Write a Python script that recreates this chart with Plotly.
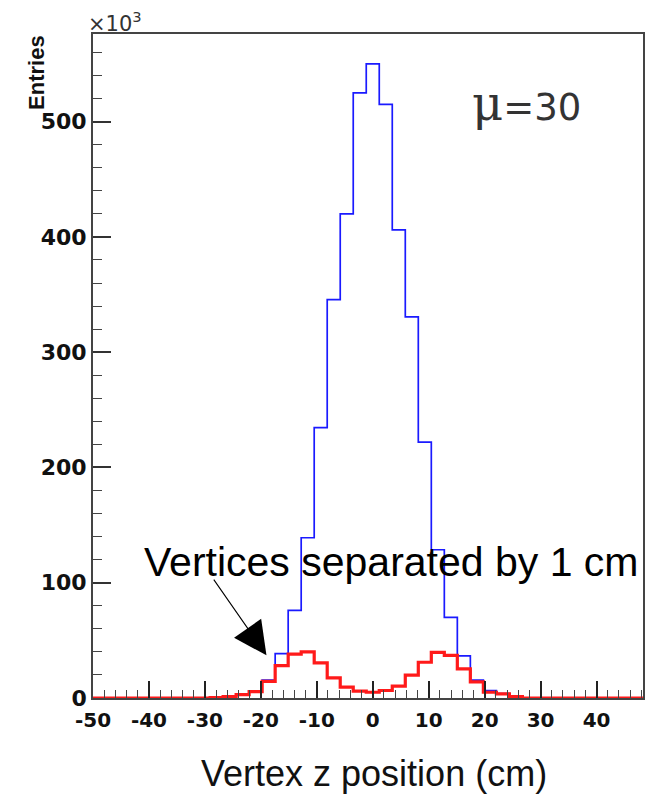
import numpy as np
import plotly.graph_objects as go

# ---- data (entries in units of 10^3) ----
n_bins = 43
x_min, x_max = -50.0, 50.0

all_vertices = [0, 0, 0, 0, 0, 0, 0, 0, 0, 0.3,
                1.3, 3.0, 5.8, 15.5, 38.5, 76, 139, 234.5, 345.6, 420,
                525, 550, 515, 406, 330.6, 222, 128.6, 70, 36.5, 15.5,
                6.5, 3.8, 1.4, 0, 0, 0, 0, 0, 0, 0,
                0, 0, 0]

separated_1cm = [0, 0, 0, 0, 0, 0, 0, 0, 0, 0.3,
                 1.3, 3.0, 5.5, 14.5, 28, 38, 40, 30.5, 17.5, 9.5,
                 5.9, 5.0, 6.5, 10.3, 19.8, 31, 39.5, 37, 25.3, 14,
                 5, 3.6, 1.3, 0, 0, 0, 0, 0, 0, 0,
                 0, 0, 0]

x_tick_vals = [-50, -40, -30, -20, -10, 0, 10, 20, 30, 40]
x_tick_text = ["-50", "-40", "-30", "-20", "-10", "0", "10", "20", "30", "40"]
y_tick_vals = [0, 100, 200, 300, 400, 500]
y_tick_text = ["0", "100", "200", "300", "400", "500"]

edges = np.linspace(x_min, x_max, n_bins + 1)


def step_xy(vals):
    return list(edges), list(vals) + [vals[-1]]


fig = go.Figure()
bx, by = step_xy(all_vertices)
fig.add_trace(go.Scatter(x=bx, y=by, mode="lines", line_shape="hv",
                         line=dict(color="#1a1aff", width=1.7),
                         showlegend=False, hoverinfo="skip"))
rx, ry = step_xy(separated_1cm)
fig.add_trace(go.Scatter(x=rx, y=ry, mode="lines", line_shape="hv",
                         line=dict(color="#ff1a1a", width=3.2),
                         showlegend=False, hoverinfo="skip"))

fig.update_layout(
    width=670, height=794, autosize=False,
    margin=dict(l=85, r=35, t=26, b=104, autoexpand=False),
    paper_bgcolor="white", plot_bgcolor="white",
    xaxis=dict(range=[-50, 48.3], showgrid=False, zeroline=False,
               showline=True, linecolor="#444", linewidth=1.8, mirror=True,
               ticks="inside", ticklen=17, tickwidth=1.5, tickcolor="#222",
               tickvals=x_tick_vals, ticktext=x_tick_text, ticklabelstandoff=3,
               tickfont=dict(family="DejaVu Sans", size=20, color="#111", weight="bold"),
               minor=dict(dtick=2, ticks="inside", ticklen=8, tickwidth=1.3, tickcolor="#444"),
               layer="above traces"),
    yaxis=dict(range=[0, 576], showgrid=False, zeroline=False,
               showline=True, linecolor="#444", linewidth=1.8, mirror=True,
               ticks="inside", ticklen=18, tickwidth=1.5, tickcolor="#333",
               tickvals=y_tick_vals, ticktext=y_tick_text,
               tickfont=dict(family="DejaVu Sans", size=22, color="#111", weight="bold"),
               minor=dict(dtick=20, ticks="inside", ticklen=9, tickwidth=1.3, tickcolor="#444"),
               layer="above traces"),
)

fig.add_annotation(text="Entries", textangle=-90, xref="paper", yref="paper",
                   x=-0.104, y=1.002, xanchor="center", yanchor="top", showarrow=False,
                   font=dict(family="Liberation Sans", size=22, color="#111", weight="bold"))
fig.add_annotation(text="×10<sup>3</sup>", xref="paper", yref="paper",
                   x=-0.012, y=1.018, xanchor="left", yanchor="middle", showarrow=False,
                   font=dict(family="DejaVu Sans", size=21, color="#333"))
fig.add_annotation(text="Vertex z position (cm)", xref="paper", yref="paper",
                   x=0.51, y=-0.114, xanchor="center", yanchor="middle", showarrow=False,
                   font=dict(family="Liberation Sans", size=36, color="#111"))
fig.add_annotation(text='<span style="font-family:DejaVu Serif;font-size:48px">μ</span>=30',
                   x=17.3, y=516, xref="x", yref="y", xanchor="left", yanchor="middle",
                   showarrow=False,
                   font=dict(family="DejaVu Sans", size=37, color="#333"))
fig.add_annotation(text="Vertices separated by 1 cm", x=-41.2, y=118,
                   xref="x", yref="y", xanchor="left", yanchor="middle",
                   showarrow=False,
                   font=dict(family="Liberation Sans", size=41, color="#000"))
fig.add_annotation(text="", x=-19.0, y=37, ax=-28.6, ay=104, xref="x", yref="y",
                   axref="x", ayref="y", showarrow=True, arrowhead=2,
                   arrowsize=6, arrowwidth=1.1, arrowcolor="#000")

fig.write_html("out.html")
